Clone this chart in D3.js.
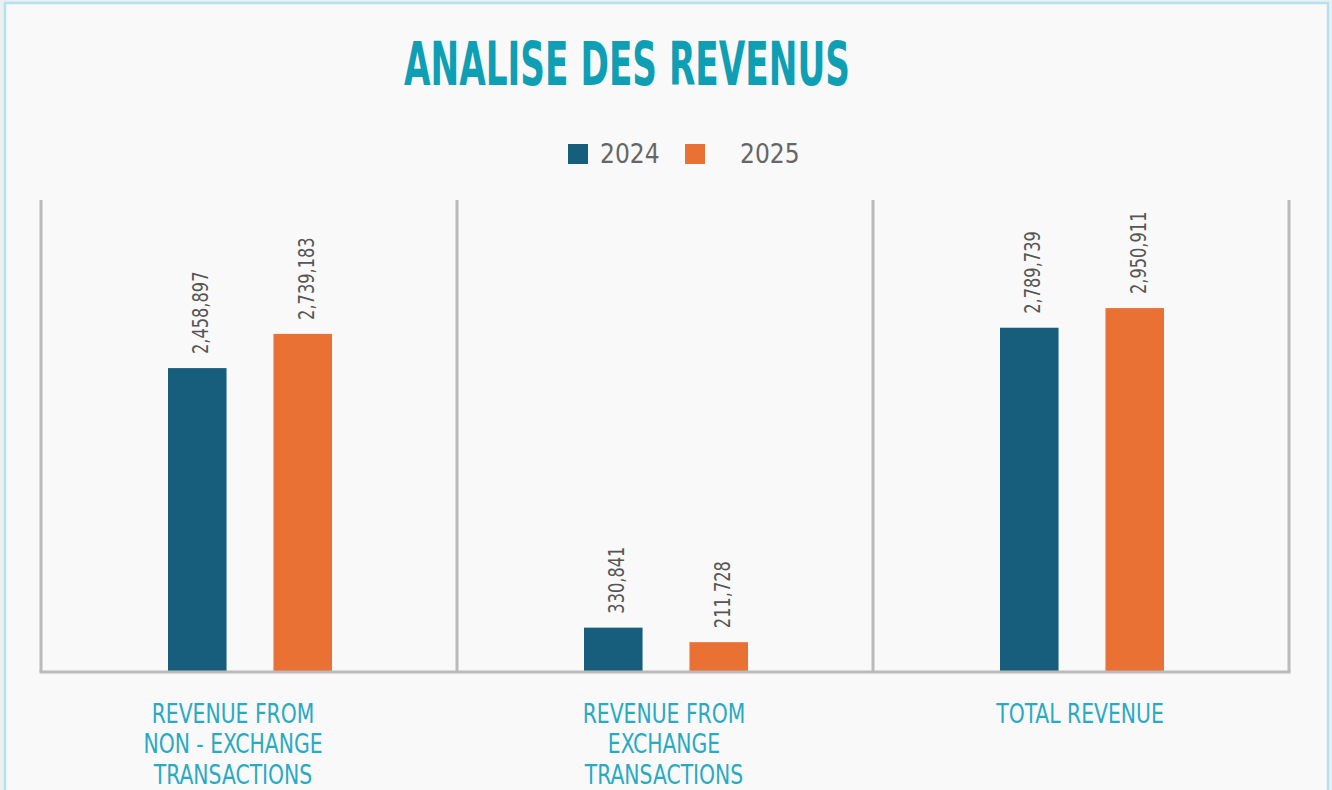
<!DOCTYPE html>
<html>
<head>
<meta charset="utf-8">
<script src="https://cdn.jsdelivr.net/npm/d3@7"></script>
<style>
  body { margin: 0; background: #eceef2; }
  svg { display: block; }
</style>
</head>
<body>
<div id="chartDiv"></div>
<script>
var width = 1332;
var height = 790;

// data
var categories = ["REVENUE FROM|NON - EXCHANGE|TRANSACTIONS", "REVENUE FROM|EXCHANGE|TRANSACTIONS", "TOTAL REVENUE"];
var years = ["2024", "2025"];
var values2024 = [2458897, 330841, 2789739];
var values2025 = [2739183, 211728, 2950911];

var colors = { "2024": "#175e7c", "2025": "#e87133" };
var narrow = "'DejaVu Sans Condensed', 'DejaVu Sans', sans-serif";
var labelShift = [-16, -1, -1];   // the first category label sits left of centre in the original
var baseY = 672;

var rows = categories.map((c, i) => ({ cat: c, vals: [
  { year: "2024", value: values2024[i] },
  { year: "2025", value: values2025[i] }
]}));

var svg = d3.select("#chartDiv")
  .append("svg")
  .attr("width", width)
  .attr("height", height);

// panel
svg.append("rect")
  .attr("x", 5).attr("y", 3)
  .attr("width", 1323).attr("height", 800)
  .attr("fill", "#f9f9f9")
  .attr("stroke", "#b3e2ef")
  .attr("stroke-width", 2.5);

// title
svg.append("text")
  .attr("x", 627).attr("y", 85)
  .attr("text-anchor", "middle")
  .attr("fill", "#0e9fb5")
  .style("font", `bold 60px ${narrow}`)
  .attr("textLength", 446)
  .attr("lengthAdjust", "spacingAndGlyphs")
  .text("ANALISE DES REVENUS");

// legend
var legend = svg.append("g").selectAll("g")
  .data(years)
  .join("g")
    .attr("transform", (d, i) => `translate(${i ? 685 : 568},144)`);
legend.append("rect")
  .attr("width", 20).attr("height", 20)
  .attr("fill", d => colors[d]);
legend.append("text")
  .attr("x", (d, i) => i ? 55 : 32)
  .attr("y", 19)
  .attr("fill", "#666")
  .style("font", `26px ${narrow}`)
  .text(d => d);

// scales
var x0 = d3.scaleBand()
  .domain(categories)
  .range([41, 1289])
  .padding(0);

var x1 = d3.scaleBand()
  .domain(years)
  .range([0, 164])
  .paddingInner(0.445)
  .paddingOuter(0);

// the original's zero sits a few px above the drawn baseline
var y = d3.scaleLinear()
  .domain([0, 3837000])
  .range([668, 200]);

var fmt = d3.format(",d");

// separators
svg.append("g").selectAll("line")
  .data(x0.domain().map(d => x0(d)).concat([x0.range()[1]]))
  .join("line")
    .attr("x1", d => d).attr("x2", d => d)
    .attr("y1", 200).attr("y2", baseY)
    .attr("stroke", "#bababa")
    .attr("stroke-width", 3);

var group = svg.append("g").selectAll("g")
  .data(rows)
  .join("g")
    .attr("transform", d => `translate(${x0(d.cat) + x0.bandwidth() / 2 - 81},0)`);

group.selectAll("rect")
  .data(d => d.vals)
  .join("rect")
    .attr("x", d => x1(d.year))
    .attr("y", d => y(d.value))
    .attr("width", x1.bandwidth())
    .attr("height", d => baseY - y(d.value))
    .attr("fill", d => colors[d.year]);

group.selectAll("text.val")
  .data(d => d.vals)
  .join("text")
    .attr("class", "val")
    .attr("transform", d => `translate(${x1(d.year) + x1.bandwidth() / 2 + 11},${y(d.value) - 14}) rotate(-90) scale(0.82,1)`)
    .attr("fill", "#555")
    .style("font", `22px ${narrow}`)
    .text(d => fmt(d.value));

svg.append("line")
  .attr("x1", x0.range()[0] - 1.5).attr("x2", x0.range()[1] + 1.5)
  .attr("y1", baseY).attr("y2", baseY)
  .attr("stroke", "#bababa")
  .attr("stroke-width", 3);

// category labels
svg.append("g").selectAll("text")
  .data(categories)
  .join("text")
    .attr("text-anchor", "middle")
    .attr("fill", "#2aa9c3")
    .style("font", `26px ${narrow}`)
    .attr("transform", (d, i) => `translate(${x0(d) + x0.bandwidth() / 2 + labelShift[i]},723) scale(0.87,1)`)
  .selectAll("tspan")
  .data(d => d.split("|"))
  .join("tspan")
    .attr("x", 0)
    .attr("y", (d, i) => i * 30.5)
    .text(d => d);
</script>
</body>
</html>
